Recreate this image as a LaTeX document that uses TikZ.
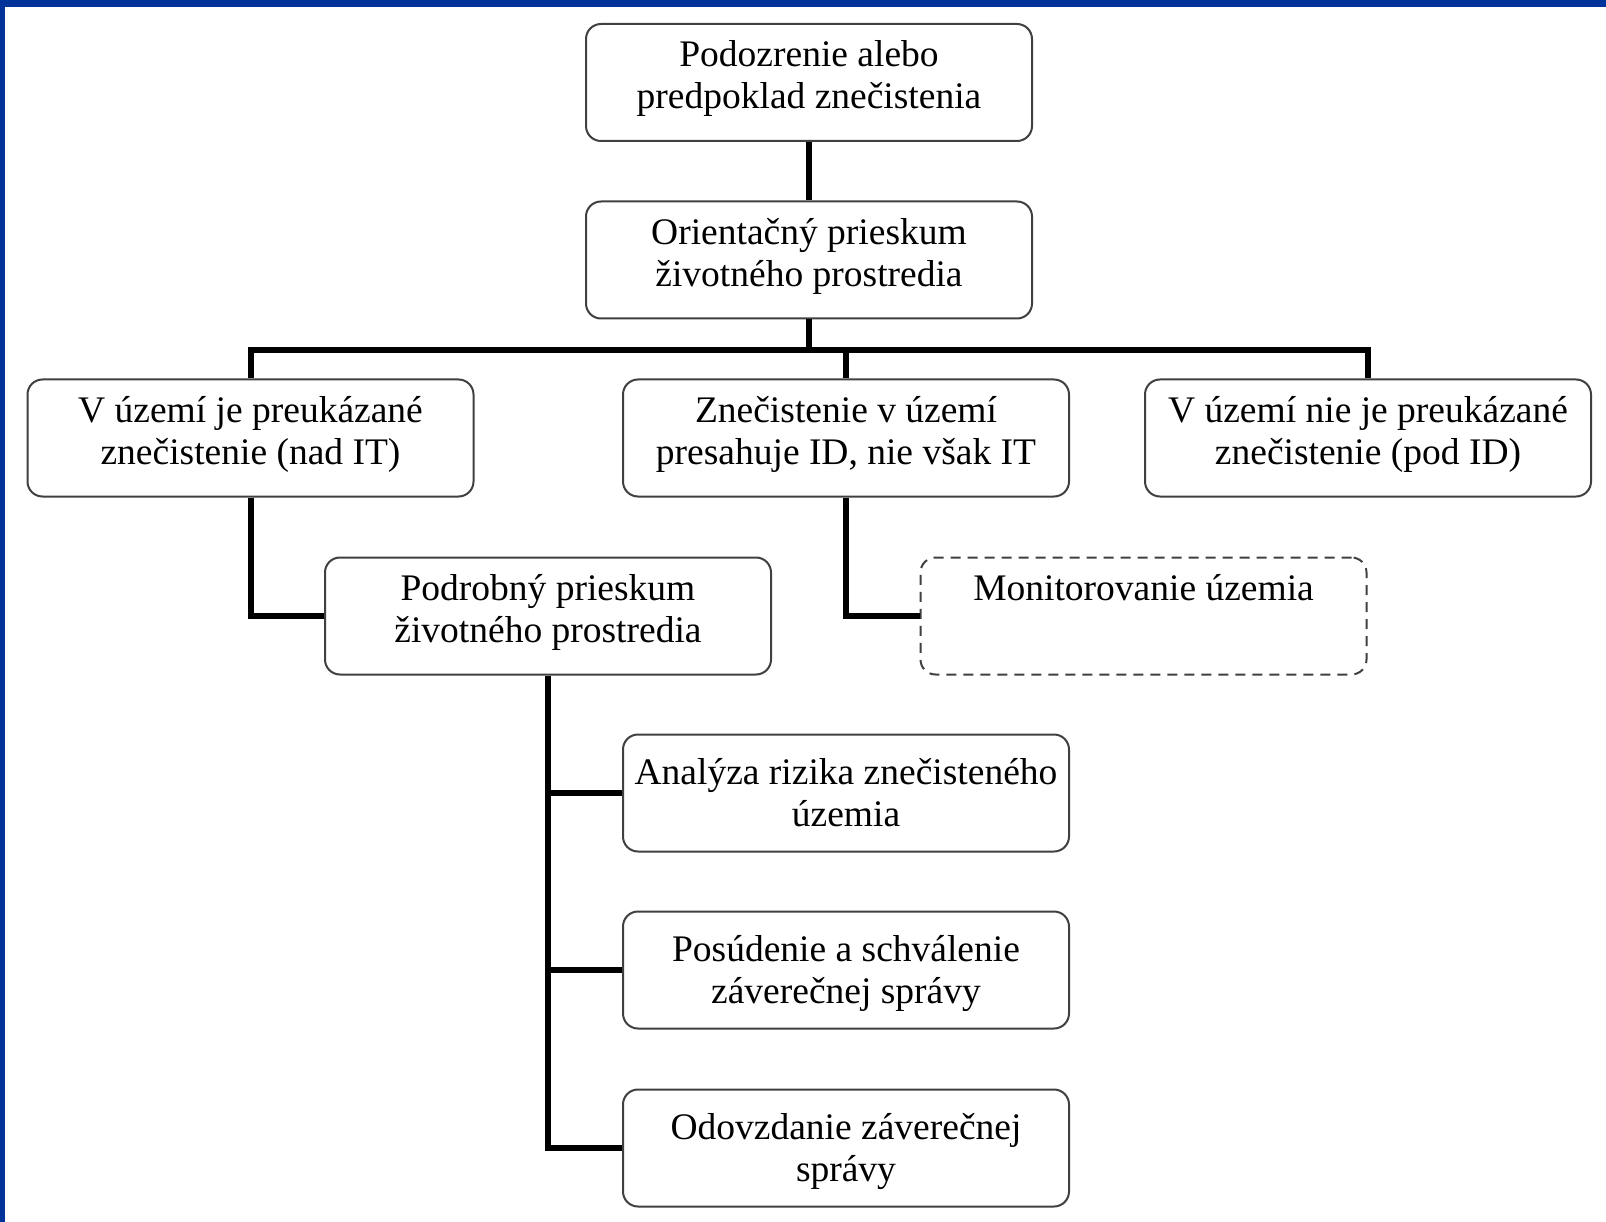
\documentclass[tikz,border=0pt]{standalone}
\usepackage{fontspec}
\setmainfont{Liberation Serif}
\definecolor{frameblue}{RGB}{0,51,153}
\newcommand{\bxt}[3][28pt]{\rule{0pt}{#1}#2\\#3\rule[-17pt]{0pt}{17pt}}
\begin{document}
\begin{tikzpicture}[x=1pt,y=-1pt,
  boxstyle/.style={draw=black!75, line width=2pt, fill=white, rounded corners=15pt,
    minimum width=446pt, minimum height=117pt, inner sep=0pt, align=center,
    font=\fontsize{37.5}{42}\selectfont},
  dashbox/.style={boxstyle, dash pattern=on 10pt off 7pt},
  conn/.style={line width=6pt, line join=miter, draw=black}]
\useasboundingbox (0,0) rectangle (1606,1222);
\fill[white] (0,0) rectangle (1606,1222);
\fill[frameblue] (0,0) rectangle (1606,7);
\fill[frameblue] (0,0) rectangle (5,1222);

\node[boxstyle] (b1) at (809,82.5) {\bxt{Podozrenie alebo}{predpoklad znečistenia}};
\node[boxstyle] (b2) at (809,260) {\bxt{Orientačný prieskum}{životného prostredia}};
\node[boxstyle] (b3) at (250.5,438) {\bxt{V území je preukázané}{znečistenie (nad IT)}};
\node[boxstyle] (b4) at (846,438) {\bxt{Znečistenie v území}{presahuje ID, nie však IT}};
\node[boxstyle] (b5) at (1368,438) {\bxt{V území nie je preukázané}{znečistenie (pod ID)}};
\node[boxstyle] (b6) at (548,616) {\bxt{Podrobný prieskum}{životného prostredia}};
\node[dashbox] (b7) at (1143.5,616) {\bxt{Monitorovanie územia}{}};
\node[boxstyle] (b8) at (846,793) {\bxt[42pt]{Analýza rizika znečisteného}{územia}};
\node[boxstyle] (b9) at (846,970) {\bxt[42pt]{Posúdenie a schválenie}{záverečnej správy}};
\node[boxstyle] (b10) at (846,1148) {\bxt[42pt]{Odovzdanie záverečnej}{správy}};

\coordinate (j) at (809,350);
\draw[conn] (b1) -- (b2);
\draw[conn] (b2) -- (j);
\draw[conn] (b3.north) |- (j) -| (b5.north);
\draw[conn] (j) -| (b4.north);
\draw[conn] (b3.south) |- (b6.west);
\draw[conn] (b4.south) |- (b7.west);
\draw[conn] (b6.south) |- (b8.west);
\draw[conn] (b6.south) |- (b9.west);
\draw[conn] (b6.south) |- (b10.west);
\end{tikzpicture}
\end{document}
